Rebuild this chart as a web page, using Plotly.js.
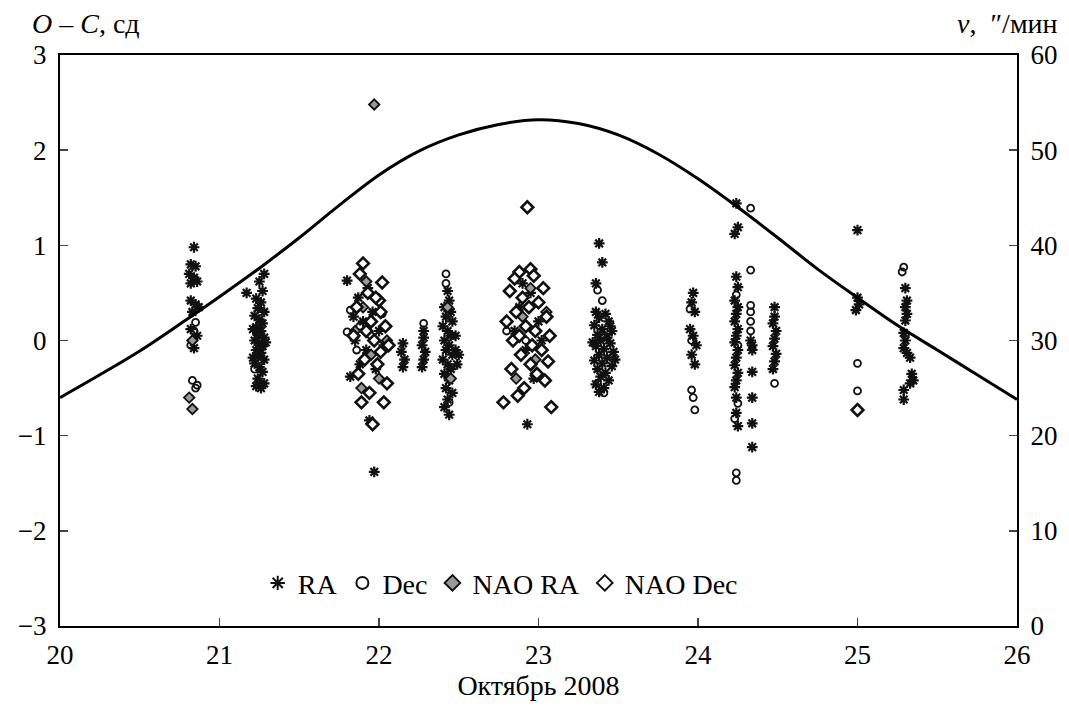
<!DOCTYPE html>
<html>
<head>
<meta charset="utf-8">
<script src="https://cdn.plot.ly/plotly-3.0.1.min.js"></script>
<style>html,body{margin:0;padding:0;background:#fff;}#chart{width:1069px;height:710px;}</style>
</head>
<body>
<div id="chart"></div>
<script>
// ---- Data ----
const raX = [20.84,20.82,20.85,20.81,20.84,20.82,20.86,20.82,20.85,20.87,20.83,20.86,20.84,20.82,
  21.17,21.28,21.25,21.27,21.23,21.26,21.24,21.28,21.22,21.25,21.27,21.23,21.26,21.24,21.28,21.22,21.25,21.27,21.23,21.26,21.24,21.28,21.22,21.25,21.27,21.24,21.28,21.23,21.26,21.21,21.29,21.21,
  21.80,21.82,21.97,21.94,21.87,21.90,21.85,21.92,21.96,22.00,21.88,21.98,22.03,21.84,21.93,
  22.15,22.14,22.16,22.15,
  22.28,22.28,22.27,22.29,22.28,22.27,
  22.43,22.44,22.41,22.45,22.42,22.46,22.40,22.43,22.45,22.41,22.44,22.42,22.46,22.40,22.43,22.45,22.41,22.44,22.42,22.46,22.43,22.41,22.44,22.48,22.49,22.48,22.50,
  22.93,22.90,22.95,22.85,23.00,22.92,22.97,22.88,23.02,
  23.38,23.40,23.36,23.36,23.42,23.38,23.44,23.35,23.40,23.46,23.37,23.43,23.39,23.45,23.36,23.41,23.47,23.38,23.43,23.35,23.40,23.46,23.37,23.42,23.39,23.44,23.36,23.41,23.38,23.45,23.34,23.48,
  23.97,23.96,23.98,23.95,23.97,23.99,23.96,23.98,
  24.24,24.25,24.23,24.24,24.25,24.23,24.25,24.24,24.23,24.25,24.24,24.23,24.25,24.24,24.23,24.25,24.24,24.23,24.24,24.24,24.25,
  24.34,24.34,24.34,24.34,24.34,24.33,24.34,
  24.48,24.48,24.47,24.49,24.48,24.47,24.49,24.48,24.47,
  25.00,25.00,25.01,24.99,
  25.30,25.31,25.30,25.31,25.30,25.29,25.30,25.29,25.31,25.33,25.34,25.35,25.33,25.29,25.29];
const raY = [0.98,0.80,0.78,0.70,0.66,0.60,0.62,0.42,0.38,0.35,0.30,0.05,-0.08,0.12,
  0.50,0.70,0.62,0.52,0.44,0.40,0.34,0.30,0.26,0.22,0.18,0.14,0.10,0.06,0.03,0.00,-0.03,-0.06,-0.10,-0.13,-0.17,-0.20,-0.24,-0.28,-0.33,-0.40,-0.45,-0.48,-0.50,0.12,-0.02,-0.18,
  0.63,-0.38,-1.38,-0.84,0.45,0.20,0.00,-0.10,0.30,0.10,-0.25,-0.30,-0.05,0.25,0.55,
  -0.03,-0.12,-0.20,-0.28,
  0.10,0.03,-0.05,-0.12,-0.20,-0.28,
  0.52,0.42,0.35,0.30,0.25,0.20,0.15,0.10,0.05,0.00,-0.05,-0.10,-0.15,-0.20,-0.25,-0.30,-0.35,-0.42,-0.50,-0.55,-0.62,-0.70,-0.78,-0.10,-0.25,0.05,-0.15,
  -0.88,0.60,0.50,0.10,0.20,-0.10,-0.40,0.35,0.00,
  1.02,0.82,0.60,0.30,0.28,0.24,0.20,0.16,0.12,0.10,0.06,0.03,0.00,-0.03,-0.06,-0.09,-0.12,-0.15,-0.18,-0.21,-0.24,-0.27,-0.30,-0.34,-0.38,-0.42,-0.46,-0.50,-0.54,0.15,-0.02,-0.20,
  0.50,0.40,0.30,0.12,0.05,-0.05,-0.15,-0.25,
  1.44,1.19,1.12,0.67,0.56,0.42,0.35,0.28,0.20,0.12,0.05,-0.02,-0.10,-0.18,-0.26,-0.34,-0.42,-0.49,-0.60,-0.76,-0.90,
  -0.10,-0.33,-0.60,-0.87,-1.12,0.00,-0.05,
  0.35,0.25,0.18,0.10,0.02,-0.06,-0.14,-0.22,-0.30,
  1.16,0.45,0.38,0.32,
  0.55,0.42,0.35,0.28,0.21,0.08,0.00,-0.08,-0.13,-0.18,-0.35,-0.42,-0.45,-0.52,-0.62];

const decX = [20.85,20.84,20.82,20.83,20.86,20.85,
  21.27,21.24,21.22,
  21.82,21.80,21.86,21.90,21.88,21.95,22.02,
  22.28,22.42,22.42,22.44,
  22.80,22.92,
  23.37,23.40,23.41,23.37,23.40,
  23.95,23.96,23.97,23.98,23.96,
  24.24,24.24,24.25,24.23,24.24,24.25,
  24.33,24.33,24.33,24.33,24.33,24.33,
  24.48,25.00,25.00,25.00,25.29,25.28,25.30];
const decY = [0.19,0.10,-0.05,-0.42,-0.47,-0.50,
  -0.46,0.08,-0.30,
  0.32,0.09,-0.10,-0.20,0.15,0.05,0.28,
  0.18,0.70,0.60,-0.65,
  0.10,0.00,
  0.53,0.42,-0.55,-0.45,0.05,
  0.33,-0.52,-0.60,-0.73,0.00,
  -1.39,-1.47,-0.66,-0.82,0.48,-0.05,
  1.39,0.74,0.37,0.30,0.20,0.10,
  -0.45,-0.24,-0.53,-0.73,0.77,0.72,0.05];

const naoRaX = [20.81,20.83,20.83,
  21.97,21.90,21.95,22.00,21.85,21.92,22.05,21.89,
  22.43,22.45,
  22.95,22.90,22.98,23.05,22.86];
const naoRaY = [-0.60,-0.72,0.00,
  2.48,0.35,-0.15,-0.40,0.10,0.62,0.00,-0.50,
  0.35,-0.40,
  0.55,0.25,-0.20,0.30,-0.40];

const naoDecX = [21.90,22.02,22.00,22.01,22.05,22.03,21.96,21.88,21.93,21.86,21.95,22.04,21.84,21.97,22.06,21.91,21.99,21.87,22.01,21.94,21.89,21.98,21.92,
  22.93,22.88,22.95,22.97,22.85,23.03,22.82,22.90,23.00,22.94,22.86,23.05,22.80,22.92,22.98,23.07,22.84,22.96,23.02,22.89,23.06,22.83,22.99,23.04,22.91,22.87,22.78,23.08,22.95,22.88,
  25.00];
const naoDecY = [0.81,0.61,0.42,0.30,-0.45,-0.65,-0.88,0.70,0.50,0.35,0.20,0.15,0.05,0.00,-0.05,-0.20,-0.25,-0.35,-0.12,-0.55,-0.65,0.45,0.10,
  1.40,0.72,0.75,0.68,0.65,0.55,0.52,0.45,0.40,0.35,0.30,0.25,0.20,0.15,0.10,0.05,0.00,-0.05,-0.10,-0.15,-0.22,-0.30,-0.35,-0.42,-0.50,-0.58,-0.65,-0.70,-0.25,0.05,
  -0.73];

// Apparent angular speed curve (right axis, "/min)
const curveDays = [20,20.25,20.5,20.75,21,21.25,21.5,21.75,22,22.25,22.5,22.75,23,23.25,23.5,23.75,24,24.25,24.5,24.75,25,25.25,25.5,25.75,26];
const curveSpeed = [24.0,26.4,28.9,31.7,34.6,37.6,40.8,44.2,47.4,49.9,51.6,52.7,53.2,52.8,51.6,49.6,47.0,44.0,40.8,37.5,34.5,31.6,29.0,26.4,23.8];

const xTicks = [20,21,22,23,24,25,26];
const yTicks = [-3,-2,-1,0,1,2,3];
const y2Ticks = [0,10,20,30,40,50,60];

// ---- Plot ----
const FONT = 'Liberation Serif, Times New Roman, serif';
const TICK = 27, TXT = 28;
const traces = [
  {x: raX, y: raY, type:'scatter', mode:'markers', name:'RA',
   marker:{symbol:'asterisk-open', size:9, line:{width:2.2, color:'#111'}, color:'#111'}},
  {x: decX, y: decY, type:'scatter', mode:'markers', name:'Dec',
   marker:{symbol:'circle-open', size:7, line:{width:1.8, color:'#111'}, color:'#111'}},
  {x: naoRaX, y: naoRaY, type:'scatter', mode:'markers', name:'NAO RA',
   marker:{symbol:'diamond', size:8, color:'#999', line:{width:1.8, color:'#111'}}},
  {x: naoDecX, y: naoDecY, type:'scatter', mode:'markers', name:'NAO Dec',
   marker:{symbol:'diamond', size:9, color:'#fff', line:{width:2.6, color:'#111'}}},
  {x: curveDays, y: curveSpeed, type:'scatter', mode:'lines', yaxis:'y2', showlegend:false,
   line:{shape:'spline', smoothing:1, color:'#000', width:3}}
];

const layout = {
  width:1069, height:710,
  margin:{l:60, r:52, t:55, b:84},
  paper_bgcolor:'#fff', plot_bgcolor:'#fff',
  font:{family:FONT, size:TICK, color:'#000'},
  showlegend:true,
  legend:{orientation:'h', x:0.46, xanchor:'center', y:0.075, yanchor:'middle',
    bgcolor:'rgba(0,0,0,0)', font:{family:FONT, size:TXT, color:'#000'}, itemsizing:'constant', traceorder:'normal'},
  xaxis:{range:[20,26], tickvals:xTicks, ticktext:xTicks.map(String), ticks:'inside', ticklen:8, tickwidth:1.5,
    showline:true, linecolor:'#000', linewidth:2, mirror:true, showgrid:false, zeroline:false,
    tickfont:{family:FONT, size:TICK, color:'#000'}, ticklabelstandoff:4,
    title:{text:'Октябрь 2008', font:{family:FONT, size:TXT, color:'#000'}, standoff:4}},
  yaxis:{range:[-3,3], tickvals:yTicks, ticks:'inside', ticklen:8, tickwidth:1.5,
    showline:true, linecolor:'#000', linewidth:2, showgrid:false, zeroline:false,
    tickfont:{family:FONT, size:TICK, color:'#000'}, ticklabelstandoff:6},
  yaxis2:{range:[0,60], tickvals:y2Ticks, overlaying:'y', side:'right', ticks:'inside', ticklen:8, tickwidth:1.5,
    showline:true, linecolor:'#000', linewidth:2, showgrid:false, zeroline:false,
    tickfont:{family:FONT, size:TICK, color:'#000'}, ticklabelstandoff:6},
  annotations:[
    {xref:'paper', yref:'paper', x:-0.031, y:1.056, xanchor:'left', yanchor:'middle', showarrow:false,
     text:'<i>O</i> – <i>C</i>, сд', font:{family:FONT, size:TXT, color:'#000'}},
    {xref:'paper', yref:'paper', x:1.045, y:1.056, xanchor:'right', yanchor:'middle', showarrow:false,
     text:'<i>v</i>,  ″/мин', font:{family:FONT, size:TXT, color:'#000'}}
  ]
};

Plotly.newPlot('chart', traces, layout, {staticPlot:true, displayModeBar:false});
</script>
</body>
</html>
